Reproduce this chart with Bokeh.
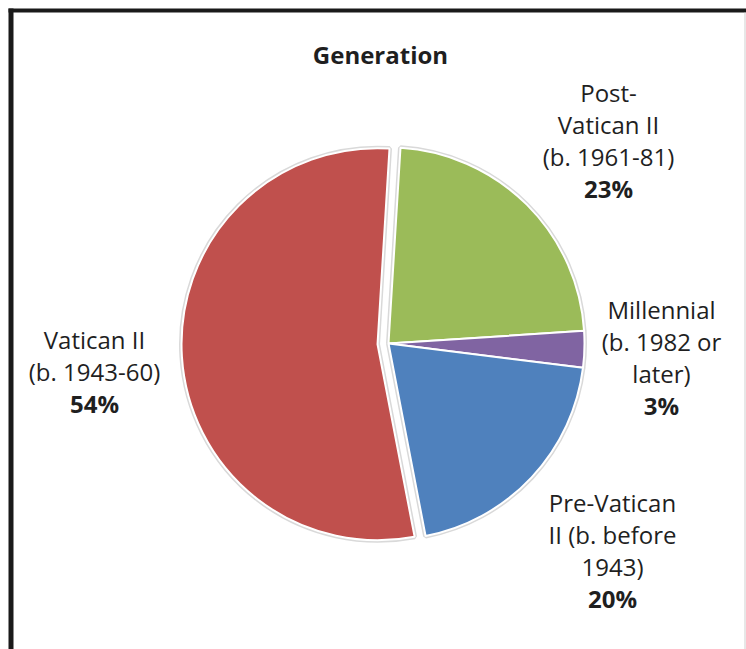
import numpy as np
from bokeh.plotting import figure
from bokeh.models import Range1d, ColumnDataSource
from bokeh.core.properties import value
from bokeh.embed import file_html
from bokeh.resources import INLINE

# ---- data ----
title_text = "Generation"
categories = ["Post-Vatican II", "Millennial", "Pre-Vatican II", "Vatican II"]
label_lines = [
    ["Post-", "Vatican II", "(b. 1961-81)"],
    ["Millennial", "(b. 1982 or", "later)"],
    ["Pre-Vatican", "II (b. before", "1943)"],
    ["Vatican II", "(b. 1943-60)"],
]
shares = [23, 3, 20, 54]
colors = ["#9BBB59", "#8064A2", "#4F81BD", "#C0504D"]

# ---- layout (page pixel coordinates) ----
W, H = 746, 649
explode_px = [0, 0, 0, 11]
center_page = (388, 343)
R = 196
rotation_deg = 3.5
label_anchor_page = [(608, 92), (661, 309), (612, 502), (94, 339)]
line_step = 32
FONT = "Open Sans"


def to_data(px, py):
    return px, H - py


cx, cy = to_data(*center_page)

vals = np.array(shares, dtype=float)
frac = vals / vals.sum()
cum_end = np.cumsum(frac) * 360.0 + rotation_deg
cum_start = cum_end - frac * 360.0
mid = (cum_start + cum_end) / 2.0
mid_math = np.radians(90.0 - mid)
xs = cx + np.array(explode_px) * np.cos(mid_math)
ys = cy + np.array(explode_px) * np.sin(mid_math)

src = ColumnDataSource(dict(
    x=xs, y=ys,
    start=np.radians(90.0 - cum_start),
    end=np.radians(90.0 - cum_end),
    color=colors, name=categories,
))

p = figure(width=W, height=H, output_backend="svg", toolbar_location=None,
           x_range=Range1d(0, W), y_range=Range1d(0, H), min_border=0)
p.axis.visible = False
p.grid.visible = False
p.outline_line_color = None
p.background_fill_color = "white"
p.border_fill_color = "white"

# frame lines (left and top, faint right)
fl, ft = to_data(8, 8)
p.quad(left=[fl, fl], right=[fl + 5, W], bottom=[0, ft - 4], top=[ft, ft],
       fill_color="#1a1a1a", line_color=None)
p.quad(left=[W - 2], right=[W - 1], bottom=[0], top=[ft - 4],
       fill_color="#d0d0d0", line_color=None)

# soft shadow halo
p.wedge(x="x", y="y", radius=R, start_angle="start", end_angle="end",
        direction="clock", source=src, fill_color="#d9d9d9",
        line_color="#d9d9d9", line_width=5)
p.wedge(x="x", y="y", radius=R, start_angle="start", end_angle="end",
        direction="clock", source=src, fill_color="color",
        line_color="white", line_width=2)

# title
tx, ty = to_data(380, 54)
p.text(x=[tx], y=[ty], text=[title_text], text_font=value(FONT),
       text_font_size="24px", text_font_style="bold", text_color="#1f1f1f",
       text_align="center", text_baseline="alphabetic")

# labels
lx, ly, lt, px_, py_, pt = [], [], [], [], [], []
for (ax, ay), lines, v in zip(label_anchor_page, label_lines, shares):
    for i, ln in enumerate(lines):
        dx, dy = to_data(ax, ay + i * line_step)
        lx.append(dx); ly.append(dy); lt.append(ln)
    dx, dy = to_data(ax, ay + len(lines) * line_step)
    px_.append(dx); py_.append(dy); pt.append(f"{v}%")

p.text(x=lx, y=ly, text=lt, text_font=value(FONT), text_font_size="24px",
       text_color="#1f1f1f", text_align="center", text_baseline="alphabetic")
p.text(x=px_, y=py_, text=pt, text_font=value(FONT), text_font_size="24px",
       text_font_style="bold", text_color="#1f1f1f", text_align="center",
       text_baseline="alphabetic")

open("out.html", "w").write(file_html(p, INLINE))
